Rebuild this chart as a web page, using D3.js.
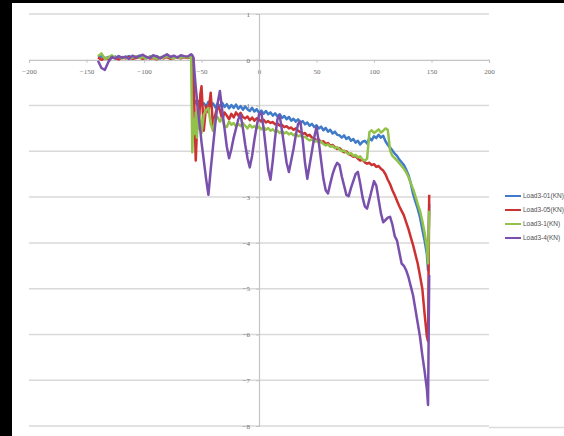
<!DOCTYPE html>
<html><head><meta charset="utf-8">
<script src="https://cdn.jsdelivr.net/npm/d3@7/dist/d3.min.js"></script>
<style>html,body{margin:0;padding:0;background:#fff;overflow:hidden}svg{display:block}</style>
</head><body><svg id="c" width="564" height="436"></svg>
<script>
const seriesNames = ["Load3-01(KN)", "Load3-05(KN)", "Load3-1(KN)", "Load3-4(KN)"];
const seriesColors = ["#3f7bc8", "#cc3232", "#93c24a", "#7a50ad"];
const xTicks = [-200, -150, -100, -50, 0, 50, 100, 150, 200];
const yTicks = [1, 0, -1, -2, -3, -4, -5, -6, -7, -8];

const xValues = [
  -140,-137,-134,-131,-128,-125,-122,-119,-116,-113,-110,-107,-104,-101,-98,-95,-92,-89,-86,-83,-80,-77,-74,-71,-68,-65,-62,-59,
  -58,-57,-56,-55,-54,-53,-52,-51,-50,
  -48,-46,-44,-42,-40,-38,-36,-34,-32,-30,
  -28,-26,-24,-22,-20,-18,-16,-14,-12,-10,
  -8,-6,-4,-2,0,2,4,6,8,10,
  12,14,16,18,20,22,24,26,28,30,
  32,34,36,38,40,42,44,46,48,50,
  52,54,56,58,60,62,64,66,68,70,
  72,74,76,78,80,82,84,86,88,90,
  92,94,96,98,100,102,104,106,108,110,
  112,114,116,118,120,122,124,126,128,130,
  132,134,136,138,140,142,144,146,
  147,148
];

const load01 = [
  0.05,0.08,0.03,0.06,0.04,0.07,0.02,0.06,0.05,0.08,0.04,0.06,0.09,0.05,0.03,0.07,0.05,0.08,0.04,0.06,0.09,0.05,0.07,0.04,0.08,0.06,0.05,0.07,
  0.06,-0.88,-0.95,-0.9,-0.97,-0.92,-1.0,-0.94,-0.99,
  -0.95,-1.03,-0.92,-1.0,-0.95,-1.04,-0.96,-1.02,-0.94,-1.03,
  -0.97,-1.06,-0.99,-1.05,-0.98,-1.07,-1.01,-1.09,-1.02,-1.08,
  -1.12,-1.05,-1.13,-1.08,-1.16,-1.11,-1.18,-1.12,-1.19,-1.15,
  -1.22,-1.17,-1.24,-1.19,-1.27,-1.23,-1.3,-1.25,-1.33,-1.29,
  -1.35,-1.3,-1.38,-1.34,-1.41,-1.37,-1.44,-1.4,-1.47,-1.43,
  -1.5,-1.46,-1.54,-1.49,-1.57,-1.53,-1.61,-1.57,-1.64,-1.65,
  -1.7,-1.65,-1.73,-1.69,-1.77,-1.73,-1.81,-1.77,-1.85,-1.79,
  -1.77,-1.83,-1.71,-1.76,-1.67,-1.71,-1.64,-1.7,-1.66,-1.78,
  -1.86,-1.92,-1.98,-2.05,-2.1,-2.18,-2.24,-2.3,-2.4,-2.52,
  -2.7,-2.93,-3.1,-3.25,-3.44,-3.7,-3.95,-4.25,
  -4.6,-3.15
];

const load05 = [
  0.05,0.0,0.04,0.02,0.06,0.03,0.01,0.05,0.03,0.06,0.02,0.04,0.05,0.02,0.06,0.03,0.04,0.01,0.05,0.03,0.06,0.02,0.04,0.05,0.03,0.06,0.04,0.05,
  0.04,0.02,-1.3,-2.2,-1.55,-0.9,-1.35,-0.75,-0.58,
  -1.55,-1.0,-1.15,-0.72,-1.45,-1.2,-1.0,-1.1,-1.3,-1.15,
  -1.22,-1.3,-1.18,-1.26,-1.15,-1.22,-1.16,-1.25,-1.28,-1.24,
  -1.32,-1.26,-1.33,-1.28,-1.3,-1.35,-1.31,-1.37,-1.34,-1.38,
  -1.36,-1.41,-1.39,-1.44,-1.42,-1.47,-1.45,-1.5,-1.48,-1.53,
  -1.5,-1.55,-1.58,-1.62,-1.6,-1.66,-1.64,-1.7,-1.72,-1.76,
  -1.74,-1.8,-1.78,-1.84,-1.82,-1.88,-1.86,-1.91,-1.95,-1.93,
  -1.98,-2.02,-2.0,-2.06,-2.08,-2.12,-2.1,-2.16,-2.2,-2.18,
  -2.24,-2.27,-2.25,-2.3,-2.28,-2.34,-2.32,-2.38,-2.42,-2.5,
  -2.62,-2.72,-2.85,-2.96,-3.08,-3.2,-3.3,-3.4,-3.55,-3.7,
  -3.88,-4.05,-4.25,-4.45,-4.72,-5.0,-5.55,-6.05,
  -6.15,-2.95
];

const load1 = [
  0.08,0.14,0.02,0.05,0.1,0.04,0.07,0.03,0.06,0.02,0.05,0.08,0.04,0.06,0.03,0.07,0.05,0.02,0.06,0.04,0.08,0.05,0.03,0.06,0.04,0.07,0.05,0.06,
  -2.02,-1.3,-1.62,-1.15,-1.7,-1.1,-1.5,-1.25,-1.6,
  -1.2,-1.1,-1.05,-1.4,-1.55,-1.3,-1.25,-1.35,-1.28,-1.45,
  -1.47,-1.35,-1.42,-1.38,-1.46,-1.4,-1.45,-1.38,-1.44,-1.5,
  -1.42,-1.48,-1.45,-1.5,-1.46,-1.52,-1.47,-1.53,-1.49,-1.55,
  -1.52,-1.57,-1.55,-1.6,-1.56,-1.61,-1.58,-1.63,-1.6,-1.65,
  -1.62,-1.67,-1.65,-1.7,-1.68,-1.73,-1.76,-1.74,-1.79,-1.77,
  -1.81,-1.79,-1.84,-1.87,-1.85,-1.9,-1.88,-1.93,-1.91,-1.96,
  -2.0,-1.98,-2.03,-2.06,-2.04,-2.1,-2.08,-2.13,-2.11,-2.18,
  -2.2,-2.16,-1.58,-1.54,-1.6,-1.56,-1.52,-1.59,-1.55,-1.5,
  -1.53,-1.98,-2.1,-2.15,-2.2,-2.26,-2.32,-2.38,-2.46,-2.56,
  -2.7,-2.82,-2.98,-3.15,-3.3,-3.52,-3.78,-4.1,
  -4.45,-3.3
];

const load4 = [
  -0.02,-0.18,-0.22,-0.05,0.06,0.03,0.08,0.04,0.07,0.02,0.09,0.05,0.08,0.11,0.06,0.04,0.1,0.07,0.03,0.08,0.12,0.06,0.09,0.05,0.1,0.08,0.07,0.12,
  0.1,0.05,-0.3,-0.6,-0.85,-1.1,-1.35,-1.55,-1.8,
  -2.2,-2.6,-2.95,-2.4,-1.9,-1.4,-0.95,-0.68,-1.1,-1.5,
  -1.9,-2.15,-1.95,-1.7,-1.5,-1.3,-1.2,-1.5,-1.85,-2.15,
  -2.35,-2.1,-1.75,-1.45,-1.2,-1.15,-1.5,-1.95,-2.4,-2.62,
  -2.2,-1.7,-1.3,-1.22,-1.55,-1.9,-2.25,-2.45,-2.2,-1.95,
  -1.65,-1.4,-1.35,-1.75,-2.25,-2.6,-2.3,-2.0,-1.7,-1.47,
  -1.8,-2.2,-2.6,-2.85,-2.92,-2.7,-2.5,-2.35,-2.25,-2.3,
  -2.55,-2.75,-2.95,-2.98,-2.8,-2.65,-2.5,-2.45,-2.7,-3.0,
  -3.2,-3.25,-3.05,-2.85,-2.65,-2.75,-3.05,-3.35,-3.55,-3.5,
  -3.45,-3.43,-3.6,-3.85,-3.95,-4.2,-4.45,-4.5,-4.6,-4.75,
  -4.95,-5.15,-5.45,-5.75,-6.05,-6.45,-6.8,-7.2,
  -7.54,-4.7
];

const seriesValues = [load01, load05, load1, load4];

const svg = d3.select("#c");
const x = d3.scaleLinear().domain([-200, 200]).range([29, 489]);
const y = d3.scaleLinear().domain([-8, 1]).range([426, 14]);

svg.append("rect").attr("width", 564).attr("height", 436).attr("fill", "#fff");

// gridlines
svg.append("g").selectAll("line").data(yTicks.filter(d => d !== 0)).join("line")
  .attr("x1", x(-200)).attr("x2", x(200))
  .attr("y1", d => y(d)).attr("y2", d => y(d))
  .attr("stroke", "#d9d9d9").attr("stroke-width", 1.5);

// bottom chart border
svg.append("line").attr("x1", x(200)).attr("x2", 564).attr("y1", 427.5).attr("y2", 427.5)
  .attr("stroke", "#dcdcdc").attr("stroke-width", 1.5);

const tickFont = "'Liberation Serif', serif";
// x axis
const gx = svg.append("g").attr("transform", `translate(0,${y(0)})`)
  .call(d3.axisBottom(x).tickValues(xTicks).tickSize(3).tickPadding(6).tickFormat(d3.format("d")));
gx.select(".domain").attr("stroke", "#c4c4c4").attr("stroke-width", 1.2);
gx.selectAll(".tick line").attr("stroke", "#c4c4c4");
gx.selectAll("text").attr("fill", "#6a6a6a").style("font-size", "7px").style("font-family", tickFont);

// y axis
const gy = svg.append("g").attr("transform", `translate(${x(0)},0)`)
  .call(d3.axisLeft(y).tickValues(yTicks).tickSize(3).tickPadding(6).tickFormat(d3.format("d")));
gy.select(".domain").attr("stroke", "#c4c4c4").attr("stroke-width", 1.2);
gy.selectAll(".tick line").attr("stroke", "#c4c4c4");
gy.selectAll("text").attr("fill", "#6a6a6a").style("font-size", "7px").style("font-family", tickFont);

// series lines
const line = d3.line().x(d => x(d[0])).y(d => y(d[1]));
seriesValues.forEach((vals, i) => {
  const pts = xValues.slice(0, vals.length).map((xv, j) => [xv, vals[j]]);
  svg.append("path").datum(pts)
    .attr("d", line)
    .attr("fill", "none")
    .attr("stroke", seriesColors[i])
    .attr("stroke-width", 2.5)
    .attr("stroke-linejoin", "round");
});

// legend
const legendY = [196, 210, 224, 238];
const lg = svg.append("g");
seriesNames.forEach((name, i) => {
  lg.append("line").attr("x1", 505).attr("x2", 521)
    .attr("y1", legendY[i]).attr("y2", legendY[i])
    .attr("stroke", seriesColors[i]).attr("stroke-width", 2);
  lg.append("text").attr("x", 523).attr("y", legendY[i]).attr("dy", "0.35em")
    .attr("fill", "#505050").style("font-size", "6.5px")
    .style("font-family", "'Liberation Sans Narrow', 'Liberation Sans', sans-serif")
    .text(name);
});

// dark frame edges
svg.append("rect").attr("x", 0).attr("y", 0).attr("width", 12).attr("height", 436).attr("fill", "#000");
svg.append("rect").attr("x", 0).attr("y", 0).attr("width", 564).attr("height", 3).attr("fill", "#000");
</script></body></html>
